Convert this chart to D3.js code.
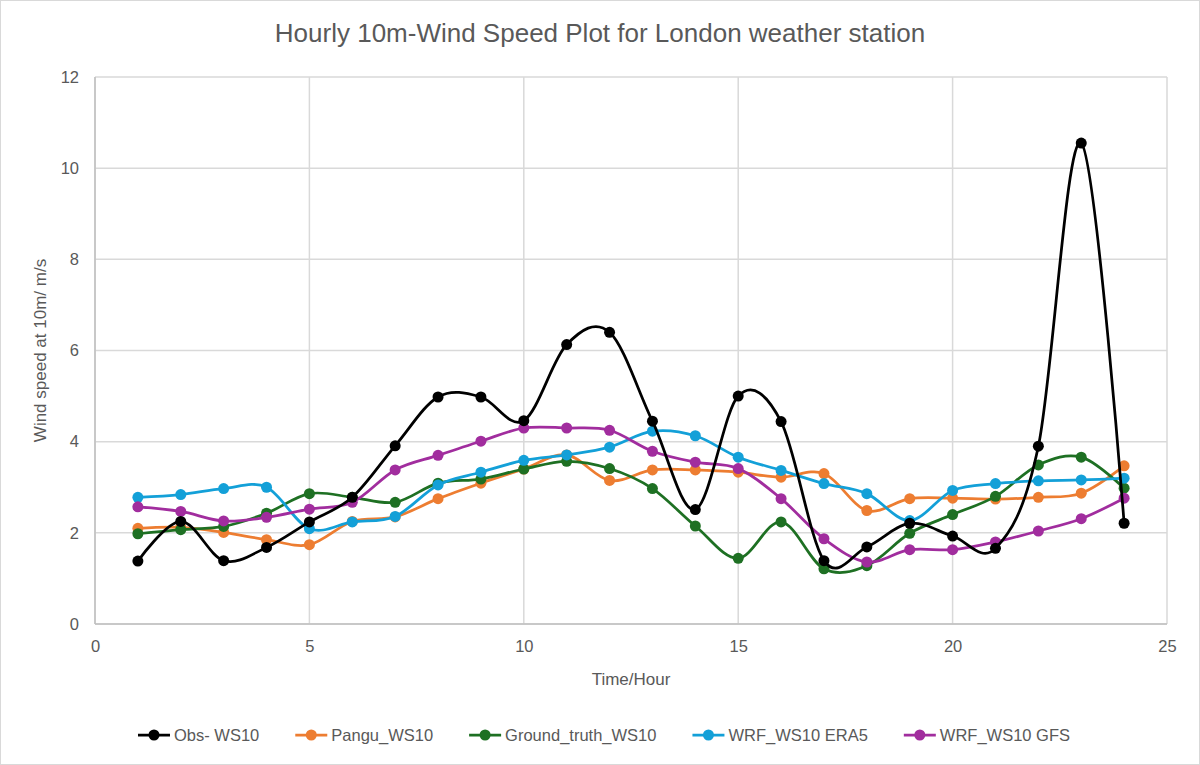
<!DOCTYPE html>
<html>
<head>
<meta charset="utf-8">
<script src="https://cdn.jsdelivr.net/npm/d3@7"></script>
<style>
  body { margin: 0; background: #fff; }
  svg text { font-family: "Liberation Sans", Arial, sans-serif; fill: #595959; }
</style>
</head>
<body>
<svg id="chart" width="1200" height="765"></svg>
<script>
// hours on the x axis
const hours = d3.range(1, 25);

const obsWS10 = [1.38, 2.25, 1.39, 1.68, 2.24, 2.78, 3.91, 4.98, 4.98, 4.46, 6.13, 6.40,
                 4.45, 2.51, 5.00, 4.44, 1.39, 1.69, 2.21, 1.93, 1.66, 3.90, 10.55, 2.21];
const panguWS10 = [2.10, 2.12, 2.01, 1.85, 1.74, 2.25, 2.35, 2.75, 3.09, 3.40, 3.71, 3.15,
                   3.38, 3.38, 3.33, 3.22, 3.30, 2.49, 2.75, 2.76, 2.74, 2.78, 2.87, 3.47];
const groundTruthWS10 = [1.98, 2.07, 2.14, 2.43, 2.86, 2.78, 2.67, 3.09, 3.18, 3.40, 3.57, 3.41,
                         2.97, 2.15, 1.44, 2.24, 1.21, 1.28, 1.99, 2.40, 2.80, 3.49, 3.66, 2.98];
const wrfEra5 = [2.78, 2.84, 2.97, 3.00, 2.09, 2.24, 2.36, 3.05, 3.33, 3.59, 3.71, 3.88,
                 4.23, 4.13, 3.66, 3.37, 3.08, 2.86, 2.27, 2.93, 3.08, 3.14, 3.16, 3.20];
const wrfGfs = [2.57, 2.47, 2.26, 2.34, 2.52, 2.67, 3.38, 3.70, 4.01, 4.30, 4.30, 4.25,
                3.79, 3.55, 3.41, 2.75, 1.87, 1.36, 1.63, 1.63, 1.80, 2.04, 2.31, 2.76];

const seriesNames = ['Obs- WS10', 'Pangu_WS10', 'Ground_truth_WS10', 'WRF_WS10 ERA5', 'WRF_WS10 GFS'];
const seriesColors = ['#000000', '#ED7D31', '#1E7023', '#13A0D8', '#A12D9E'];
const seriesValues = [obsWS10, panguWS10, groundTruthWS10, wrfEra5, wrfGfs];

const xTicks = [0, 5, 10, 15, 20, 25];
const yTicks = [0, 2, 4, 6, 8, 10, 12];

const width = 1200, height = 765;
const margin = { top: 77, right: 33, bottom: 141, left: 95 };
const svg = d3.select('#chart');

// chart border
svg.append('rect')
    .attr('x', 0.5).attr('y', 0.5)
    .attr('width', width - 1).attr('height', height - 1)
    .attr('fill', '#fff').attr('stroke', '#d9d9d9');

const xscale = d3.scaleLinear().domain([0, 25]).range([margin.left, width - margin.right]);
const yscale = d3.scaleLinear().domain([0, 12]).range([height - margin.bottom, margin.top]);

// gridlines
svg.append('g').attr('class', 'ygrid')
    .selectAll('line').data(yTicks).join('line')
    .attr('x1', xscale(0)).attr('x2', xscale(25))
    .attr('y1', d => yscale(d)).attr('y2', d => yscale(d))
    .attr('stroke', '#d9d9d9').attr('stroke-width', 1.5);

svg.append('g').attr('class', 'xgrid')
    .selectAll('line').data(xTicks).join('line')
    .attr('x1', d => xscale(d)).attr('x2', d => xscale(d))
    .attr('y1', yscale(0)).attr('y2', yscale(12))
    .attr('stroke', '#d9d9d9').attr('stroke-width', 1.5);

// axes lines
svg.append('line')
    .attr('x1', xscale(0)).attr('x2', xscale(25))
    .attr('y1', yscale(0)).attr('y2', yscale(0))
    .attr('stroke', '#bfbfbf').attr('stroke-width', 1.5);
svg.append('line')
    .attr('x1', xscale(0)).attr('x2', xscale(0))
    .attr('y1', yscale(0)).attr('y2', yscale(12))
    .attr('stroke', '#bfbfbf').attr('stroke-width', 1.5);

// tick labels
let xAxis = d3.axisBottom(xscale).tickValues(xTicks).tickSize(0).tickPadding(16);
let yAxis = d3.axisLeft(yscale).tickValues(yTicks).tickSize(0).tickPadding(16);

svg.append('g').classed('xAxis', true)
    .attr('transform', `translate(0,${yscale(0)})`)
    .call(xAxis);
svg.append('g').classed('yAxis', true)
    .attr('transform', `translate(${xscale(0)},0)`)
    .call(yAxis);

svg.selectAll('.xAxis .domain, .yAxis .domain').remove();
svg.selectAll('.xAxis text, .yAxis text')
    .style('font-size', '16.5px')
    .style('font-family', '"Liberation Sans", Arial, sans-serif')
    .attr('fill', '#595959');

// title and axis labels
svg.append('text')
    .attr('x', 600).attr('y', 42)
    .attr('text-anchor', 'middle')
    .style('font-size', '26px')
    .text('Hourly 10m-Wind Speed Plot for London weather station');

svg.append('text')
    .attr('x', 631).attr('y', 685)
    .attr('text-anchor', 'middle')
    .style('font-size', '17px')
    .text('Time/Hour');

svg.append('text')
    .attr('transform', `translate(46,${yscale(6)})rotate(-90)`)
    .attr('text-anchor', 'middle')
    .style('font-size', '17px')
    .text('Wind speed at 10m/ m/s');

// series
const line = d3.line()
    .x((d, i) => xscale(hours[i]))
    .y(d => yscale(d))
    .curve(d3.curveCardinal.tension(0));

const order = [1, 2, 3, 4, 0];
order.forEach(k => {
    const g = svg.append('g').attr('class', 'series');
    g.append('path')
        .datum(seriesValues[k])
        .attr('d', line)
        .attr('fill', 'none')
        .attr('stroke', seriesColors[k])
        .attr('stroke-width', 2.75);
    g.selectAll('circle')
        .data(seriesValues[k])
        .join('circle')
        .attr('cx', (d, i) => xscale(hours[i]))
        .attr('cy', d => yscale(d))
        .attr('r', 5.5)
        .attr('fill', seriesColors[k]);
});

// legend
const legend = svg.append('g').attr('class', 'legend');
let lx = 0;
seriesNames.forEach((name, i) => {
    const item = legend.append('g').attr('transform', `translate(${lx},0)`);
    item.append('line')
        .attr('x1', 0).attr('x2', 32)
        .attr('stroke', seriesColors[i]).attr('stroke-width', 2.75);
    item.append('circle')
        .attr('cx', 16).attr('r', 5.5)
        .attr('fill', seriesColors[i]);
    const t = item.append('text')
        .attr('x', 36).attr('dy', '0.35em')
        .style('font-size', '16.5px')
        .text(name);
    lx += 36 + t.node().getComputedTextLength() + 36;
});
lx -= 36;
legend.attr('transform', `translate(${604 - lx / 2},735)`);
</script>
</body>
</html>
